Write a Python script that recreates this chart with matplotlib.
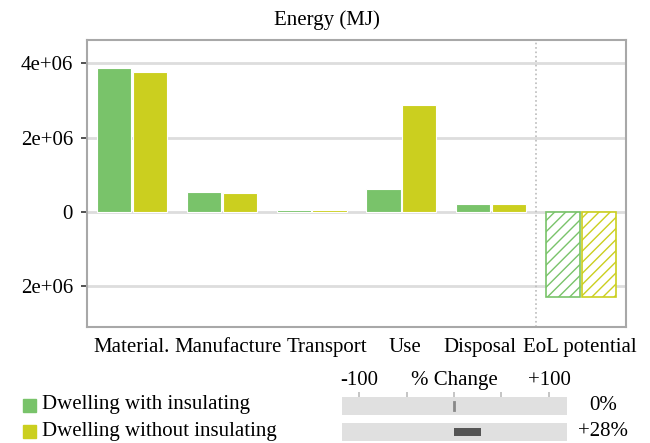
import numpy as np
import matplotlib
matplotlib.use("Agg")
import matplotlib.pyplot as plt
from matplotlib.patches import Rectangle
from matplotlib.transforms import blended_transform_factory, ScaledTranslation

# ----------------------------
# Dados
# ----------------------------
categories = ["Material.", "Manufacture", "Transport", "Use", "Disposal", "EoL potential"]
with_insulating = [3.88e6, 0.53e6, 0.045e6, 0.61e6, 0.21e6, -2.31e6]
without_insulating = [3.77e6, 0.495e6, 0.045e6, 2.87e6, 0.21e6, -2.31e6]
hatched = [False, False, False, False, False, True]

series_names = ["Dwelling with insulating", "Dwelling without insulating"]
pct_change = [0, 28]

ytick_values = [-2e6, 0, 2e6, 4e6]
ytick_labels = ["2e+06", "0", "2e+06", "4e+06"]
change_ticks = [-100, -50, 0, 50, 100]
change_labels = ["-100", "", "", "", "+100"]

colors = ["#79c36a", "#cbcf1f"]

# deslocamento horizontal (px) dos rótulos das categorias, para não sobreporem
label_shift = [0, 6, 15, 3, -11, -1]

plt.rcParams["font.family"] = ["Liberation Serif", "DejaVu Serif"]
plt.rcParams["hatch.linewidth"] = 1.0

W, H = 650, 443
fig = plt.figure(figsize=(W / 100, H / 100), dpi=100)

# ----------------------------
# Gráfico principal
# ----------------------------
ax = fig.add_axes([87 / W, 1 - 327 / H, (626 - 87) / W, (327 - 40) / H])
x = np.arange(len(categories))
width = 0.38
for i, (vals, color) in enumerate(zip([with_insulating, without_insulating], colors)):
    for xi, v, h in zip(x, vals, hatched):
        pos = xi + (i - 0.5) * 0.4
        if h:
            ax.bar(pos, v, width, facecolor="white", edgecolor=color,
                   hatch="///", linewidth=1.2, zorder=3)
        else:
            ax.bar(pos, v, width, color=color, edgecolor="white",
                   linewidth=0.8, zorder=3)

ax.set_xlim(-0.5, len(categories) - 0.5)
ax.set_ylim(-3.11e6, 4.63e6)
ax.set_yticks(ytick_values)
ax.set_yticklabels(ytick_labels)
ax.set_xticks(x)
ax.set_xticklabels([])
base = blended_transform_factory(ax.transData, ax.transAxes)
for xi, name, dx in zip(x, categories, label_shift):
    tr = base + ScaledTranslation(dx / 100, -11 / 100, fig.dpi_scale_trans)
    ax.text(xi, 0, name, transform=tr, ha="center", va="top", fontsize=15)
ax.yaxis.grid(True, color="#dddddd", linewidth=2, zorder=0)
ax.set_axisbelow(True)
ax.axvline(len(categories) - 1.5, color="#bbbbbb", linestyle=":", linewidth=1.2, zorder=1)
for s in ax.spines.values():
    s.set_color("#a8a8a8")
    s.set_linewidth(1.5)
ax.tick_params(axis="y", direction="out", length=4, width=1.2, color="#333333",
               pad=6, labelsize=15)
ax.tick_params(axis="x", length=0)

fig.text(327 / W, 1 - 20 / H, "Energy (MJ)", ha="center", va="center", fontsize=15)

# ----------------------------
# Legenda
# ----------------------------
for k, (name, color) in enumerate(zip(series_names, colors)):
    yc = 405 + k * 26.5
    fig.patches.append(Rectangle((23 / W, 1 - (yc + 6.5) / H), 13 / W, 13 / H,
                                 transform=fig.transFigure, color=color))
    fig.text(42 / W, 1 - yc / H, name, ha="left", va="center", fontsize=15)

# ----------------------------
# % Change
# ----------------------------
pax = fig.add_axes([342 / W, 1 - 441 / H, 225 / W, 44 / H])
pax.set_xlim(-118, 119)
pax.set_ylim(1.35, -0.357)
rows = np.arange(len(pct_change))
pax.barh(rows, 237, left=-118, height=0.69, color="#e0e0e0")
for r, v in zip(rows, pct_change):
    if v == 0:
        pax.plot([0, 0], [r - 0.16, r + 0.16], color="#888888", linewidth=2)
    else:
        pax.barh(r, v, left=0, height=0.34, color="#555555")
for s in pax.spines.values():
    s.set_visible(False)
pax.set_yticks([])
pax.set_xticks(change_ticks)
pax.set_xticklabels(change_labels)
pax.xaxis.tick_top()
pax.tick_params(axis="x", length=3.5, width=1.2, color="#bbbbbb", pad=1.5, labelsize=15)
trans = blended_transform_factory(pax.transData, pax.transAxes)
pax.text(0, 1.16, "% Change", transform=trans, ha="center", va="bottom", fontsize=15)

for k, v in enumerate(pct_change):
    label = "0%" if v == 0 else f"{v:+d}%"
    fig.text(603 / W, 1 - (406 + k * 26) / H, label, ha="center", va="center", fontsize=15)

fig.savefig("out.png", dpi=100)
